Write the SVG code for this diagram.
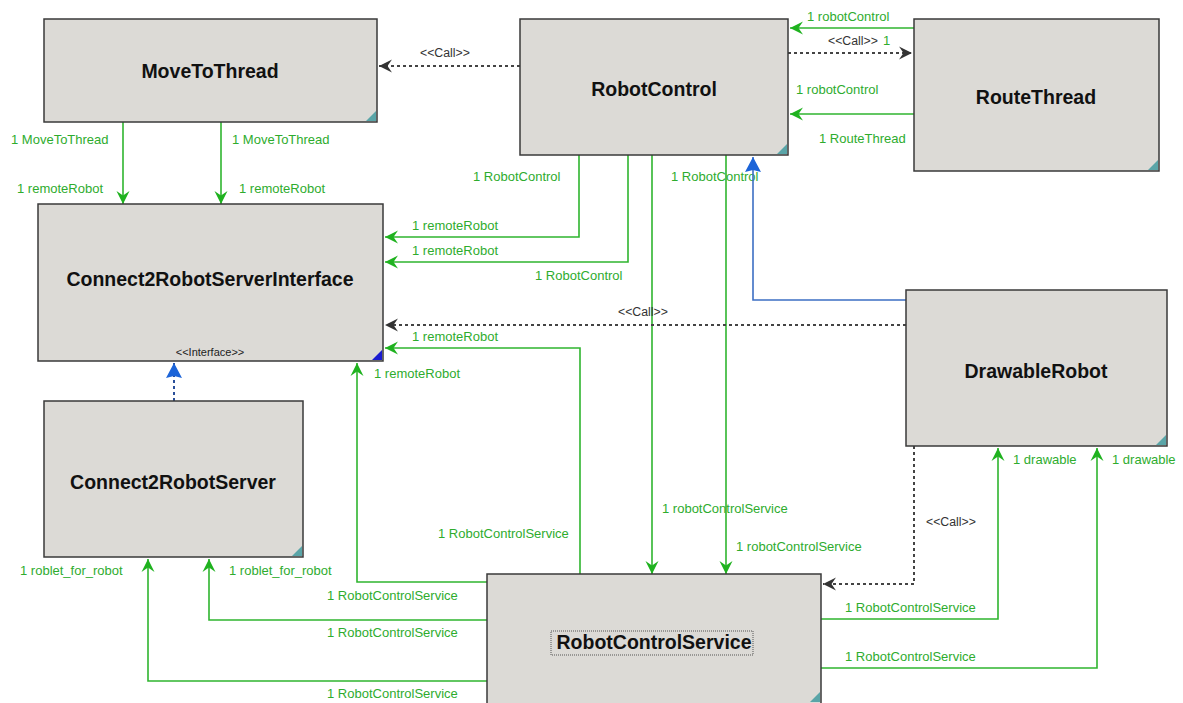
<svg xmlns="http://www.w3.org/2000/svg" width="1183" height="703" viewBox="0 0 1183 703">
  <style>
    .node rect.box { fill: #dcdad6; stroke: #3a3a3a; stroke-width: 1.5; }
    .node .corner { fill: #5aa5a8; }
    .node .corner-if { fill: #1b1bd0; }
    .title { font-family: "Liberation Sans", Arial, sans-serif; font-size: 19.5px; font-weight: bold; fill: #111; text-anchor: middle; }
    .stereo { font-family: "Liberation Sans", Arial, sans-serif; font-size: 11px; fill: #222; }
    .assoc { fill: none; stroke: #2fb52f; stroke-width: 1.6; }
    .call { fill: none; stroke: #444; stroke-width: 2; stroke-dasharray: 3 3; }
    .gen { fill: none; stroke: #3d6fc4; stroke-width: 1.6; }
    .real { fill: none; stroke: #2a4f9a; stroke-width: 2; stroke-dasharray: 3 3; }
    .lbl { font-family: "Liberation Sans", Arial, sans-serif; font-size: 13px; fill: #2eac2e; }
    .clbl { font-family: "Liberation Sans", Arial, sans-serif; font-size: 12.3px; fill: #333; }
  </style>
  <defs>
    <marker id="greenHead" markerUnits="userSpaceOnUse" viewBox="-14 -8 15 16" refX="0" refY="0" markerWidth="15" markerHeight="16" orient="auto">
      <path d="M0,0 L-13,-6.5 L-8.5,0 L-13,6.5 Z" fill="#1fb21f"/>
    </marker>
    <marker id="callHead" markerUnits="userSpaceOnUse" viewBox="-14 -8 15 16" refX="0" refY="0" markerWidth="15" markerHeight="16" orient="auto">
      <path d="M0,0 L-13,-6.5 L-8.5,0 L-13,6.5 Z" fill="#333"/>
    </marker>
    <marker id="blueHead" markerUnits="userSpaceOnUse" viewBox="-16 -9 17 18" refX="0" refY="0" markerWidth="17" markerHeight="18" orient="auto">
      <path d="M0,0 L-15,-8 L-13,0 L-15,8 Z" fill="#1c64d8"/>
    </marker>
  </defs>

  <rect x="0" y="0" width="1183" height="703" fill="#ffffff"/>

  <!-- connectors -->
  <g id="connectors">
    <!-- RobotControl calls MoveToThread -->
    <path class="call" d="M520,66 H379" marker-end="url(#callHead)"/>
    <text class="clbl" x="420" y="57">&lt;&lt;Call&gt;&gt;</text>

    <!-- RobotControl / RouteThread -->
    <path class="assoc" d="M914,28 H790" marker-end="url(#greenHead)"/>
    <text class="lbl" x="807" y="21">1 robotControl</text>
    <path class="call" d="M788,53 H912" marker-end="url(#callHead)"/>
    <text class="clbl" x="828" y="45">&lt;&lt;Call&gt;&gt;</text>
    <text class="lbl" x="883" y="45">1</text>
    <path class="assoc" d="M914,114 H790" marker-end="url(#greenHead)"/>
    <text class="lbl" x="796" y="94">1 robotControl</text>
    <text class="lbl" x="819" y="143">1 RouteThread</text>

    <!-- MoveToThread to the server interface -->
    <path class="assoc" d="M123,122 V204" marker-end="url(#greenHead)"/>
    <path class="assoc" d="M221,122 V204" marker-end="url(#greenHead)"/>
    <text class="lbl" x="11" y="144">1 MoveToThread</text>
    <text class="lbl" x="232" y="144">1 MoveToThread</text>
    <text class="lbl" x="17" y="193">1 remoteRobot</text>
    <text class="lbl" x="239" y="193">1 remoteRobot</text>

    <!-- RobotControl to the server interface -->
    <path class="assoc" d="M579,155 V237 H385" marker-end="url(#greenHead)"/>
    <path class="assoc" d="M628,155 V262 H385" marker-end="url(#greenHead)"/>
    <text class="lbl" x="473" y="181">1 RobotControl</text>
    <text class="lbl" x="412" y="230">1 remoteRobot</text>
    <text class="lbl" x="412" y="255">1 remoteRobot</text>
    <text class="lbl" x="535" y="280">1 RobotControl</text>

    <!-- RobotControl to RobotControlService -->
    <path class="assoc" d="M652,155 V574" marker-end="url(#greenHead)"/>
    <path class="assoc" d="M726,155 V574" marker-end="url(#greenHead)"/>
    <text class="lbl" x="671" y="181">1 RobotControl</text>
    <text class="lbl" x="662" y="513">1 robotControlService</text>
    <text class="lbl" x="736" y="551">1 robotControlService</text>

    <!-- DrawableRobot extends RobotControl -->
    <path class="gen" d="M906,300 H753 V157" marker-end="url(#blueHead)"/>

    <!-- DrawableRobot calls the server interface -->
    <path class="call" d="M906,325 H385" marker-end="url(#callHead)"/>
    <text class="clbl" x="618" y="316">&lt;&lt;Call&gt;&gt;</text>

    <!-- RobotControlService to the server interface -->
    <path class="assoc" d="M580,574 V348 H385" marker-end="url(#greenHead)"/>
    <text class="lbl" x="412" y="341">1 remoteRobot</text>
    <text class="lbl" x="438" y="538">1 RobotControlService</text>
    <path class="assoc" d="M487,582 H357 V363" marker-end="url(#greenHead)"/>
    <text class="lbl" x="374" y="378">1 remoteRobot</text>
    <text class="lbl" x="327" y="600">1 RobotControlService</text>

    <!-- Connect2RobotServer implements the interface -->
    <path class="real" d="M174,401 V363" marker-end="url(#blueHead)"/>

    <!-- RobotControlService to Connect2RobotServer -->
    <path class="assoc" d="M487,620 H209 V559" marker-end="url(#greenHead)"/>
    <path class="assoc" d="M487,681 H148 V559" marker-end="url(#greenHead)"/>
    <text class="lbl" x="20" y="575">1 roblet_for_robot</text>
    <text class="lbl" x="229" y="575">1 roblet_for_robot</text>
    <text class="lbl" x="327" y="637">1 RobotControlService</text>
    <text class="lbl" x="327" y="698">1 RobotControlService</text>

    <!-- DrawableRobot calls RobotControlService -->
    <path class="call" d="M914,446 V584 H823" marker-end="url(#callHead)"/>
    <text class="clbl" x="926" y="526">&lt;&lt;Call&gt;&gt;</text>

    <!-- RobotControlService to DrawableRobot -->
    <path class="assoc" d="M821,619 H998 V448" marker-end="url(#greenHead)"/>
    <path class="assoc" d="M821,668 H1097 V448" marker-end="url(#greenHead)"/>
    <text class="lbl" x="1013" y="464">1 drawable</text>
    <text class="lbl" x="1112" y="464">1 drawable</text>
    <text class="lbl" x="845" y="612">1 RobotControlService</text>
    <text class="lbl" x="845" y="661">1 RobotControlService</text>
  </g>

  <!-- nodes -->
  <g id="MoveToThread" class="node">
    <rect class="box" x="44" y="19" width="333" height="103"/>
    <path class="corner" d="M376,111 V121 H366 Z"/>
    <text class="title" x="210" y="78">MoveToThread</text>
  </g>

  <g id="RobotControl" class="node">
    <rect class="box" x="520" y="19" width="268" height="136"/>
    <path class="corner" d="M787,144 V154 H777 Z"/>
    <text class="title" x="654" y="96">RobotControl</text>
  </g>

  <g id="RouteThread" class="node">
    <rect class="box" x="914" y="19" width="245" height="152"/>
    <path class="corner" d="M1158,160 V170 H1148 Z"/>
    <text class="title" x="1036" y="104">RouteThread</text>
  </g>

  <g id="Connect2RobotServerInterface" class="node">
    <rect class="box" x="38" y="204" width="345" height="157"/>
    <path class="corner-if" d="M382,350 V360 H372 Z"/>
    <text class="title" x="210" y="286">Connect2RobotServerInterface</text>
    <text class="stereo" x="210" y="356" text-anchor="middle">&lt;&lt;Interface&gt;&gt;</text>
  </g>

  <g id="Connect2RobotServer" class="node">
    <rect class="box" x="44" y="401" width="259" height="156"/>
    <path class="corner" d="M302,546 V556 H292 Z"/>
    <text class="title" x="173" y="489">Connect2RobotServer</text>
  </g>

  <g id="DrawableRobot" class="node">
    <rect class="box" x="906" y="290" width="261" height="156"/>
    <path class="corner" d="M1166,435 V445 H1156 Z"/>
    <text class="title" x="1036" y="378">DrawableRobot</text>
  </g>

  <g id="RobotControlService" class="node">
    <rect class="box" x="487" y="574" width="334" height="140"/>
    <path class="corner" d="M820,692 V702 H810 Z"/>
    <rect x="551" y="631" width="202" height="24" fill="none" stroke="#555" stroke-width="1" stroke-dasharray="1 1"/>
    <text class="title" x="654" y="649">RobotControlService</text>
  </g>
</svg>
